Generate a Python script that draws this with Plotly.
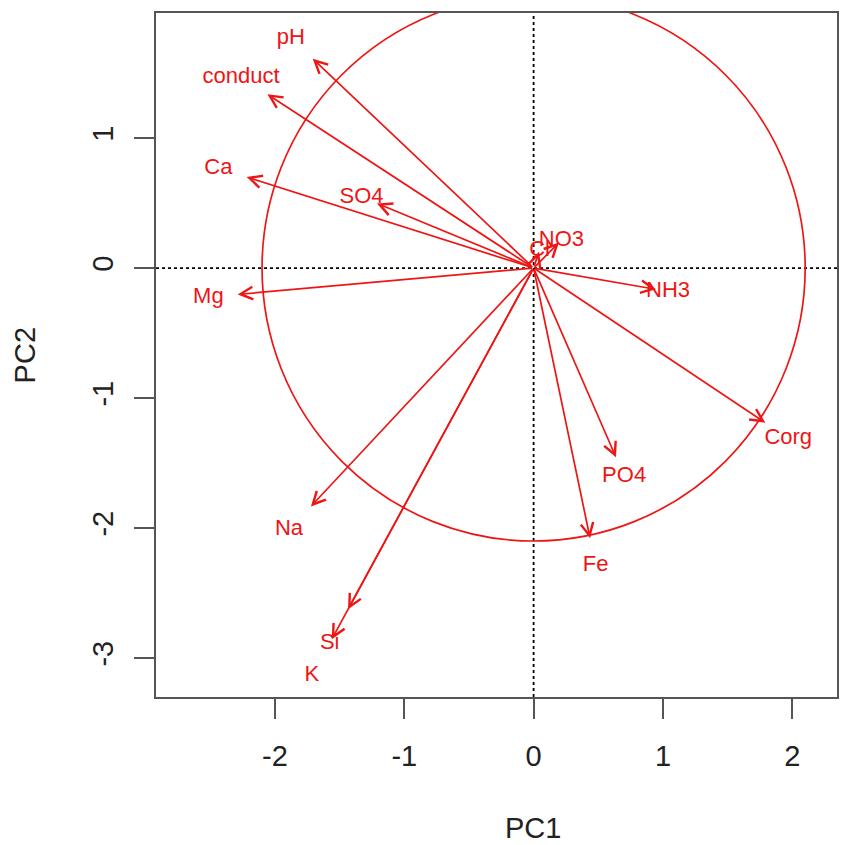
import plotly.graph_objects as go

# Variable loadings (label positions) in PC1/PC2 space
variables = ["pH", "conduct", "Ca", "SO4", "NO3", "Cl", "Mg", "NH3",
             "Corg", "PO4", "Fe", "Na", "Si", "K"]
pc1 = [-1.877, -2.262, -2.438, -1.331, 0.215, 0.046, -2.515, 1.040,
       1.969, 0.700, 0.480, -1.892, -1.577, -1.715]
pc2 = [1.769, 1.469, 0.769, 0.546, 0.215, 0.138, -0.223, -0.180,
       -1.308, -1.600, -2.285, -2.015, -2.885, -3.138]
arrow_scale = 0.91          # arrows drawn to this fraction of the loading
circle_radius = 2.1         # equilibrium circle radius

x_range = [-2.92, 2.346]
y_range = [-3.30, 1.962]
tick_vals_x = [-2, -1, 0, 1, 2]
tick_vals_y = [-3, -2, -1, 0, 1]

RED = "#ee1515"
FONT = "Liberation Sans, Arial, Helvetica, sans-serif"

fig = go.Figure()

# labels
fig.add_trace(go.Scatter(
    x=pc1, y=pc2, mode="text", text=variables,
    textfont=dict(family=FONT, size=22, color=RED),
    textposition="middle center", hoverinfo="skip", showlegend=False,
))

# arrows from origin
for name, a, b in zip(variables, pc1, pc2):
    fig.add_annotation(
        x=a * arrow_scale, y=b * arrow_scale, ax=0, ay=0,
        xref="x", yref="y", axref="x", ayref="y",
        text="", showarrow=True, arrowhead=5, arrowsize=1.45,
        arrowwidth=1.7, arrowcolor=RED, standoff=0, startstandoff=0,
    )

# circle
fig.add_shape(type="circle", xref="x", yref="y",
              x0=-circle_radius, y0=-circle_radius,
              x1=circle_radius, y1=circle_radius,
              line=dict(color=RED, width=1.7), layer="above")

# dotted axes lines
fig.add_shape(type="line", xref="x", yref="paper", x0=0, x1=0, y0=0, y1=1,
              line=dict(color="black", width=1.8, dash="dot"), layer="below")
fig.add_shape(type="line", xref="paper", yref="y", x0=0, x1=1, y0=0, y1=0,
              line=dict(color="black", width=1.8, dash="dot"), layer="below")

axis_common = dict(
    showgrid=False, zeroline=False, showline=True, mirror=True,
    linecolor="#555555", linewidth=2, ticks="outside", ticklen=20,
    tickwidth=1.5, tickcolor="#555555",
    tickfont=dict(family=FONT, size=29, color="#222222"),
)

fig.update_xaxes(range=x_range, tickvals=tick_vals_x,
                 ticktext=[str(v) for v in tick_vals_x],
                 ticklabelstandoff=12, **axis_common)
fig.update_yaxes(range=y_range, tickvals=tick_vals_y,
                 ticktext=[str(v) for v in tick_vals_y],
                 tickangle=-90, ticklabelstandoff=9, **axis_common)

fig.add_annotation(text="PC1", xref="paper", yref="paper", x=0.553, y=-0.1915,
                   showarrow=False, xanchor="center", yanchor="middle",
                   font=dict(family=FONT, size=29, color="#222222"))
fig.add_annotation(text="PC2", xref="paper", yref="paper", x=-0.1918, y=0.5,
                   showarrow=False, xanchor="center", yanchor="middle",
                   textangle=-90,
                   font=dict(family=FONT, size=29, color="#222222"))

fig.update_layout(
    width=846, height=845,
    margin=dict(l=156, r=7, t=13, b=148),
    paper_bgcolor="white", plot_bgcolor="white",
    showlegend=False,
)

fig.write_html("out.html")
